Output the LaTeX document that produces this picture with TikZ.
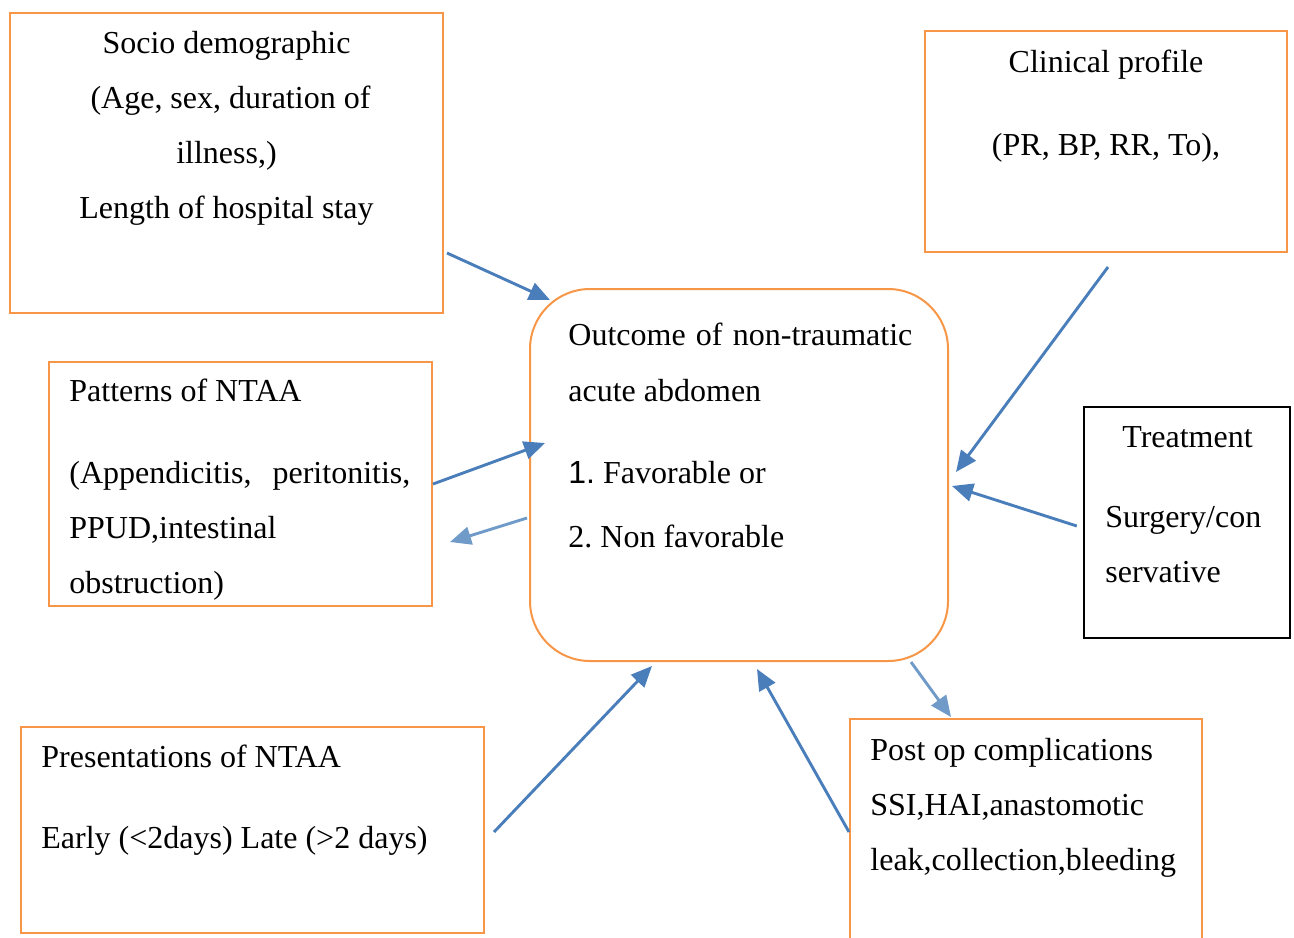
\documentclass[tikz,border=0pt]{standalone}
\usepackage{fontspec}
\setmainfont{Liberation Serif}
\newfontfamily\arialfont{Liberation Sans}
\usetikzlibrary{arrows.meta}
\definecolor{boxorange}{RGB}{247,150,70}
\definecolor{arrowblue}{RGB}{74,126,187}
\definecolor{arrowlight}{RGB}{112,155,200}
\frenchspacing

\begin{document}
\begin{tikzpicture}[x=0.5pt, y=-0.5pt,
  obox/.style={draw=boxorange, line width=1pt, rectangle, inner sep=0pt},
  txt/.style={inner sep=0pt, font=\fontsize{16}{27.5}\selectfont},
  arr/.style={draw=arrowblue, line width=1.45pt, -{Triangle[length=10.5pt,width=9pt]}},
  arrlight/.style={arr, draw=arrowlight}]
  \useasboundingbox (0,0) rectangle (1294,937);
  \node[obox, minimum width=216.5pt, minimum height=150pt] (socio) at (226.5,163) {};
  \node[obox, minimum width=181pt, minimum height=110.5pt] (clinical) at (1106,141.5) {};
  \node[obox, rounded corners=30pt, minimum width=209pt, minimum height=186pt] (outcome) at (739,475) {};
  \node[obox, minimum width=191.5pt, minimum height=122pt] (patterns) at (240.5,484) {};
  \node[obox, draw=black, line width=1.2pt, minimum width=103pt, minimum height=115.5pt] (treatment) at (1187,522.5) {};
  \node[obox, minimum width=231.5pt, minimum height=103pt] (presentations) at (252.5,830) {};
  \node[obox, minimum width=176pt, minimum height=121pt] (postop) at (1026,840) {};
  \node[txt, align=center, anchor=base] (socio-txt) at (226.5,218) {Socio demographic\\ \hspace*{4pt}(Age, sex, duration of\\ illness,)\\ Length of hospital stay};
  \node[txt, align=center, anchor=base] (clinical-txt) at (1106,155) {Clinical profile\\[14pt] (PR, BP, RR, To),};
  \node[txt, align=left, anchor=base west] (outcome-txt) at (568,547) {\makebox[172pt][s]{Outcome of non-traumatic}\\[0.5pt] acute abdomen\\[13.5pt] {\arialfont 1.} Favorable or\\[4.5pt] 2. Non favorable};
  \node[txt, align=left, anchor=base west] (patterns-txt) at (69,593) {Patterns of NTAA\\[13.5pt] \makebox[170.5pt][s]{(Appendicitis, peritonitis,}\\ PPUD,intestinal\\ obstruction)};
  \node[txt, anchor=base] (treatment-title) at (1187.5,447) {Treatment};
  \node[txt, align=left, anchor=base west] (treatment-txt) at (1105,582) {Surgery/con\\ servative};
  \node[txt, align=left, anchor=base west] (presentations-txt) at (41,848) {Presentations of NTAA\\[13pt] Early (<2days) Late (>2 days)};
  \node[txt, align=left, anchor=base west] (postop-txt) at (870,870) {Post op complications\\ SSI,HAI,anastomotic\\ leak,collection,bleeding};
  \draw[arr] ([shift={(3,-61)}]socio.south east) -- ([shift={(21,12)}]outcome.north west);
  \draw[arr] (patterns.east) -- ([shift={(16,-32)}]outcome.west);
  \draw[arrlight] ([shift={(-2,43)}]outcome.west) -- ([shift={(17,58)}]patterns.east);
  \draw[arr] ([shift={(2,14)}]clinical.south) -- ([shift={(7,-3)}]outcome.east);
  \draw[arr] ([shift={(-6,3.5)}]treatment.west) -- ([shift={(3,11)}]outcome.east);
  \draw[arrlight] ([shift={(-38,0)}]outcome.south east) -- ([shift={(102,-1)}]postop.north west);
  \draw[arr] ([shift={(9,2)}]presentations.east) -- ([shift={(-87,4)}]outcome.south);
  \draw[arr] ([shift={(0,-8)}]postop.west) -- ([shift={(18,7)}]outcome.south);
\end{tikzpicture}
\end{document}
